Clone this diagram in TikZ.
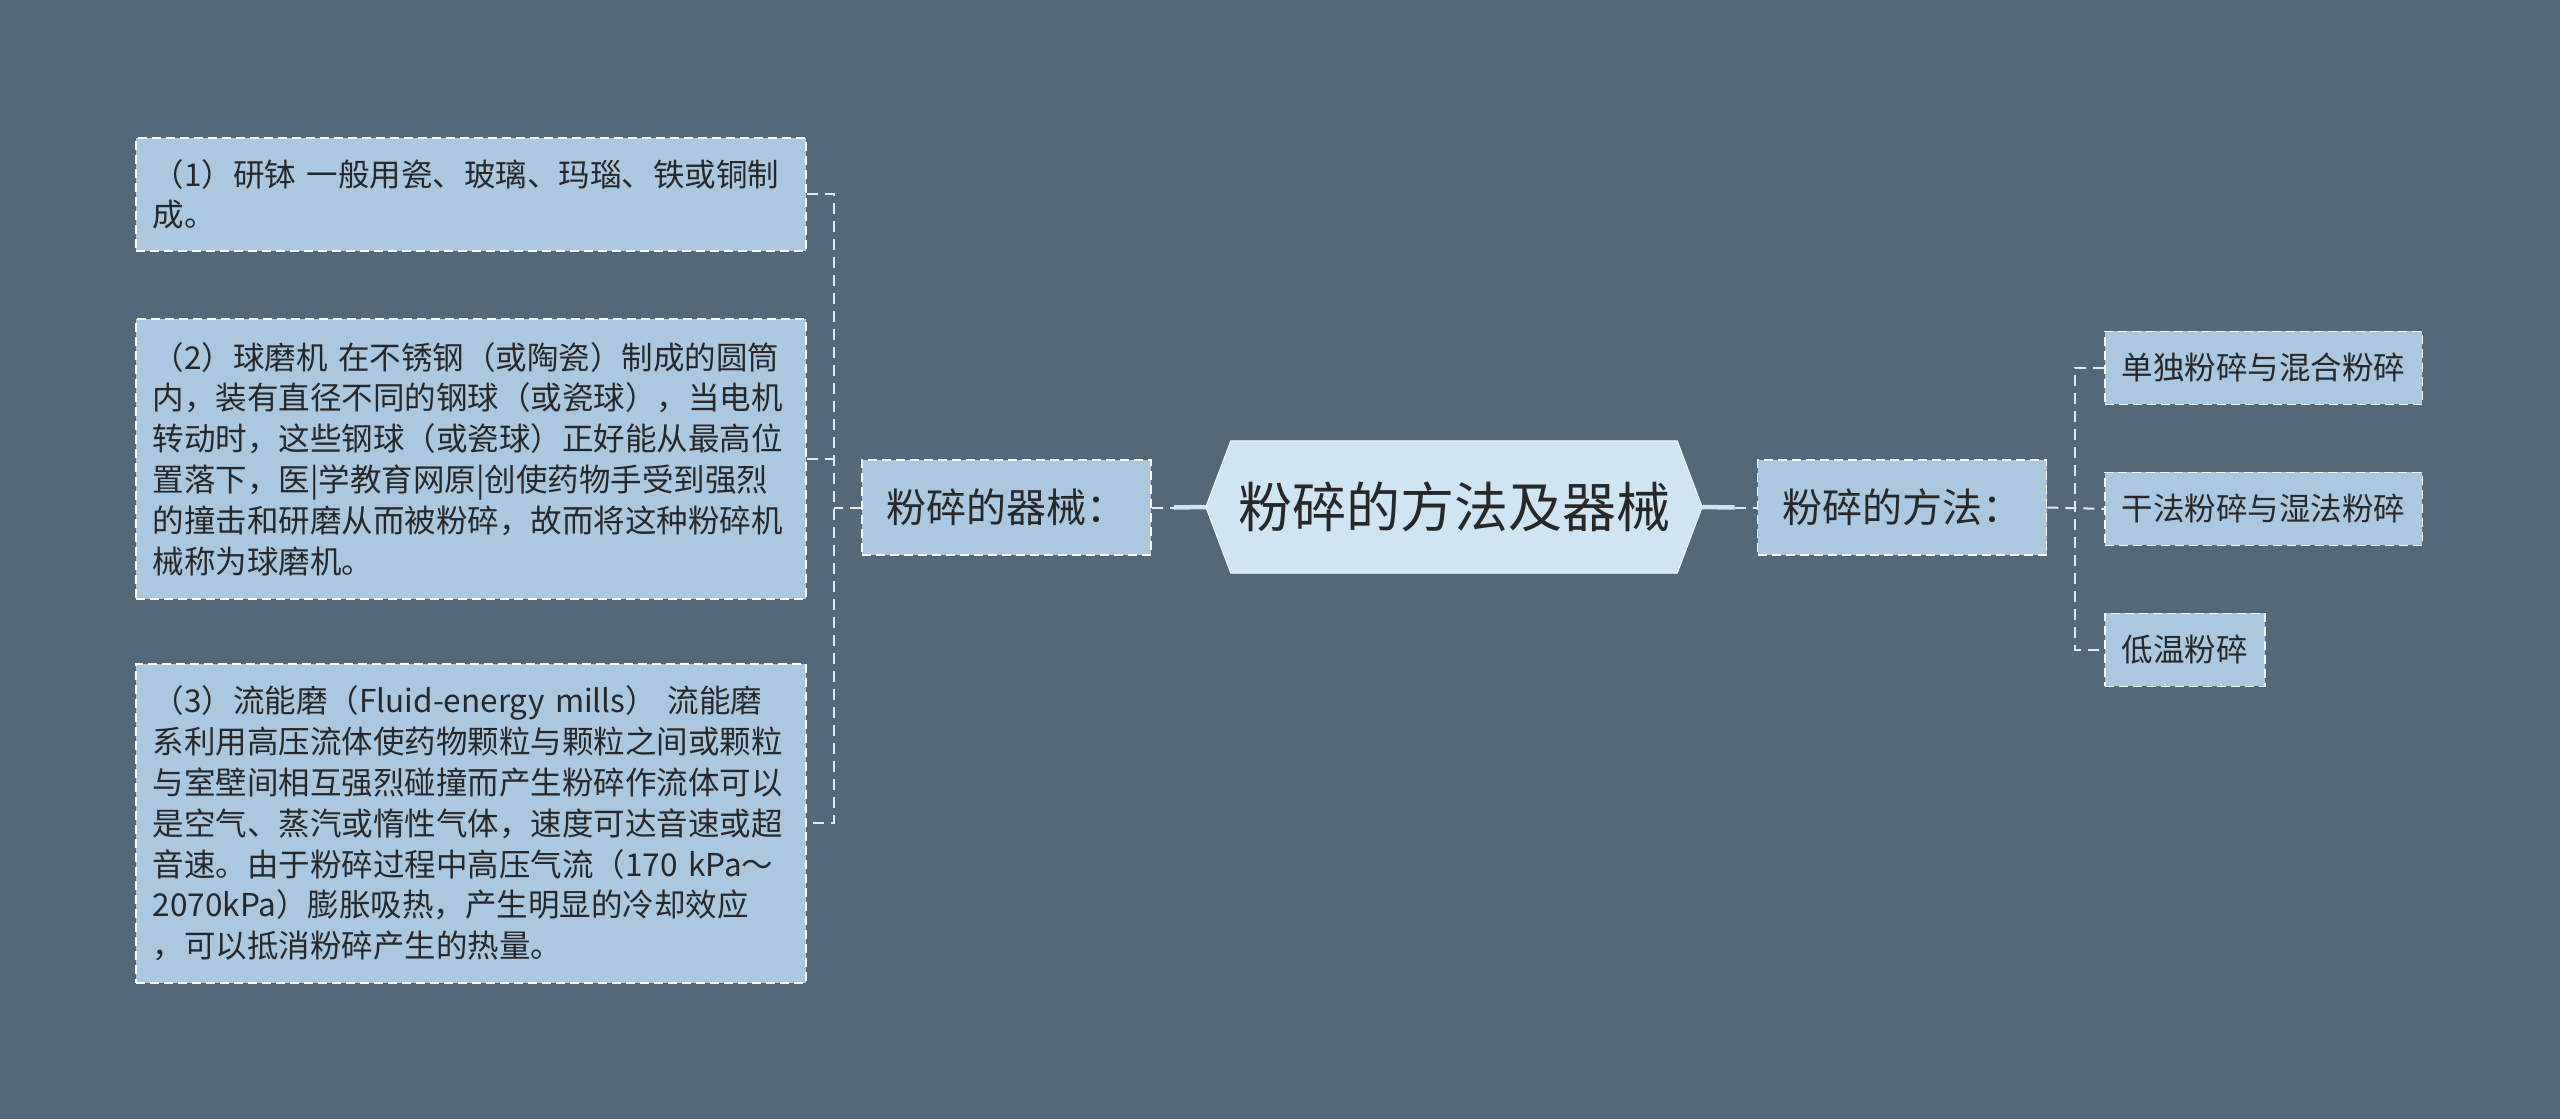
\documentclass[tikz,border=0pt]{standalone}
\usepackage{fontspec}
\newfontfamily\cjk{Noto Sans CJK SC}
\usetikzlibrary{calc}
\definecolor{bg}{RGB}{83,105,122}
\definecolor{boxfill}{RGB}{170,200,224}
\definecolor{hexfill}{RGB}{207,229,243}
\definecolor{txt}{RGB}{40,40,40}
\definecolor{lnk}{RGB}{222,234,244}
\begin{document}
\begin{tikzpicture}[x=1pt,y=-1pt,
  leafbox/.style={draw=white, line width=1.8pt, dash pattern=on 9pt off 5pt,
    fill=boxfill, text=txt, font=\cjk\fontsize{31.5}{40.8}\selectfont,
    inner xsep=17pt, inner ysep=0pt, anchor=north west, align=left},
  longbox/.style={leafbox, text width=636pt},
  shortbox/.style={leafbox, minimum height=73pt},
  midbox/.style={draw=white, line width=1.8pt, dash pattern=on 9pt off 5pt,
    fill=boxfill, text=txt, font=\cjk\fontsize{40}{48}\selectfont,
    minimum width=289pt, minimum height=95pt, inner sep=0pt},
  conn/.style={draw=lnk, line width=2pt, dash pattern=on 11pt off 7pt},
  mainconn/.style={draw=hexfill, line width=4.5pt}]
\useasboundingbox (0,0) rectangle (2560,1119);
\fill[bg] (0,0) rectangle (2560,1119);

% left leaves
\node[longbox, minimum height=113pt] (b1) at (135,137)
  {（1）研钵 一般用瓷、玻璃、玛瑙、铁或铜制\\成。};
\node[longbox, minimum height=280pt] (b2) at (135,318)
  {（2）球磨机 在不锈钢（或陶瓷）制成的圆筒\\内，装有直径不同的钢球（或瓷球），当电机\\转动时，这些钢球（或瓷球）正好能从最高位\\置落下，医|学教育网原|创使药物手受到强烈\\的撞击和研磨从而被粉碎，故而将这种粉碎机\\械称为球磨机。};
\node[longbox, minimum height=319pt] (b3) at (135,663)
  {（3）流能磨（Fluid-energy mills） 流能磨\\系利用高压流体使药物颗粒与颗粒之间或颗粒\\与室壁间相互强烈碰撞而产生粉碎作流体可以\\是空气、蒸汽或惰性气体，速度可达音速或超\\音速。由于粉碎过程中高压气流（170 kPa～\\2070kPa）膨胀吸热，产生明显的冷却效应\\，可以抵消粉碎产生的热量。};

% middle boxes
\node[midbox] (m1) at (1006.5,507.5) {粉碎的器械：};
\node[midbox] (m2) at (1902,507.5) {粉碎的方法：};

% center hexagon
\node[minimum width=496pt, minimum height=132pt, inner sep=0pt] (hex) at (1454,507) {};
\filldraw[fill=hexfill, draw=white!85!hexfill, line width=1pt]
  (hex.west) -- ([xshift=25pt]hex.north west) -- ([xshift=-25pt]hex.north east)
  -- (hex.east) -- ([xshift=-25pt]hex.south east) -- ([xshift=25pt]hex.south west) -- cycle;
\node[text=txt, font=\cjk\fontsize{54}{60}\selectfont] (hextext) at (hex.center) {粉碎的方法及器械};

% right leaves
\node[shortbox] (ra) at (2104,330.5) {单独粉碎与混合粉碎};
\node[shortbox] (rb) at (2104,471.5) {干法粉碎与湿法粉碎};
\node[shortbox] (rc) at (2104,612.5) {低温粉碎};

% connectors
\coordinate (lj) at (834,507.5);
\coordinate (rj) at (2075,507.5);
\draw[conn] (b1.east) -- (b1.east -| lj) -- (b3.east -| lj) -- (b3.east);
\draw[conn] (b2.east) -- (b2.east -| lj);
\draw[conn] (m1.west) -- (lj);
\draw[conn] (ra.west) -- (ra.west -| rj) -- (rc.west -| rj) -- (rc.west);
\draw[conn] (m2.east) -- (rb.west);
\draw[mainconn] ([xshift=22pt]m1.east) -- (hex.west);
\draw[conn] (m1.east) -- ([xshift=22pt]m1.east);
\draw[mainconn] (hex.east) -- ([xshift=-22pt]m2.west);
\draw[conn] ([xshift=-22pt]m2.west) -- (m2.west);
\end{tikzpicture}
\end{document}
